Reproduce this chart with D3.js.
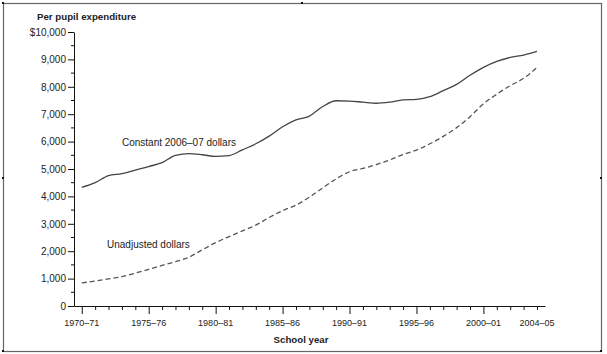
<!DOCTYPE html>
<html>
<head>
<meta charset="utf-8">
<script src="https://cdn.jsdelivr.net/npm/d3@7"></script>
<style>
  body { margin: 0; background: #fff; }
  svg text { font-family: "Liberation Sans", Arial, sans-serif; fill: #222; }
</style>
</head>
<body>
<div id="chart"></div>
<script>
let width = 607,
    height = 354;

// school years, by starting year (1970 = 1970–71)
const years = d3.range(1970, 2005);

// per pupil expenditure, constant 2006–07 dollars
const constantDollars = [4330, 4500, 4760, 4830, 4960, 5090, 5230, 5500, 5560, 5520,
    5460, 5490, 5700, 5920, 6200, 6540, 6790, 6930, 7280, 7490,
    7480, 7440, 7400, 7440, 7520, 7540, 7640, 7860, 8090, 8420,
    8710, 8930, 9070, 9160, 9290];

// per pupil expenditure, unadjusted dollars
const unadjustedDollars = [842, 910, 990, 1070, 1200, 1340, 1480, 1620, 1780, 2050,
    2310, 2530, 2740, 2950, 3230, 3480, 3680, 3970, 4310, 4640,
    4900, 5020, 5160, 5330, 5530, 5690, 5920, 6190, 6510, 6910,
    7380, 7730, 8040, 8310, 8700];

const xLabelYears = [1970, 1975, 1980, 1985, 1990, 1995, 2000, 2004];
const majorYears = [1970, 1975, 1980, 1985, 1990, 1995, 2000];
const yTicks = d3.range(0, 10001, 1000);
const yMinor = d3.range(500, 10000, 1000);

let svg = d3.select("#chart")
    .append("svg")
    .attr("width", width)
    .attr("height", height);

// frame
svg.append("rect")
    .attr("x", 3.5).attr("y", 3.5)
    .attr("width", 598).attr("height", 348)
    .attr("fill", "none")
    .attr("stroke", "#666")
    .attr("stroke-width", 1.2);

// little corner / side marks
[[3, 3], [302, 3], [3, 178], [601, 178], [3, 351], [601, 351]].forEach(p => {
    svg.append("rect").attr("x", p[0] - 1).attr("y", p[1] - 1)
        .attr("width", 2).attr("height", 2).attr("fill", "#111");
});

let x = d3.scaleLinear()
    .domain([1969.42, 2004.6])
    .range([74, 545]);

let y = d3.scaleLinear()
    .domain([0, 10000])
    .range([306, 32]);

// y axis
let yAxis = svg.append("g")
    .attr("transform", "translate(74,0)")
    .call(d3.axisLeft(y)
        .tickValues(yTicks)
        .tickSize(6)
        .tickSizeOuter(0)
        .tickFormat(d => d === 10000 ? "$10,000" : d3.format(",")(d)));
yAxis.selectAll("text").attr("font-size", 10).attr("dx", "0.1em");

svg.append("g")
    .attr("transform", "translate(74,0)")
    .selectAll("line")
    .data(yMinor)
    .join("line")
    .attr("x1", -3).attr("x2", 0)
    .attr("y1", d => y(d)).attr("y2", d => y(d))
    .attr("stroke", "#111");

// x axis
let xAxis = svg.append("g")
    .attr("transform", "translate(0,306)")
    .call(d3.axisBottom(x)
        .tickValues(years)
        .tickSize(4)
        .tickSizeOuter(0)
        .tickFormat(""));
xAxis.selectAll(".tick line")
    .attr("y2", d => majorYears.includes(d) ? 8 : 4);

svg.append("g")
    .selectAll("text")
    .data(xLabelYears)
    .join("text")
    .attr("x", d => x(d))
    .attr("y", 326)
    .attr("text-anchor", "middle")
    .attr("font-size", 9)
    .text(d => d + "–" + String(d + 1).slice(2));

svg.selectAll(".domain, .tick line").attr("stroke", "#111");

// lines
let line = d3.line()
    .x((d, i) => x(years[i]))
    .y(d => y(d))
    .curve(d3.curveMonotoneX);

svg.append("path")
    .datum(constantDollars)
    .attr("d", line)
    .attr("fill", "none")
    .attr("stroke", "#444")
    .attr("stroke-width", 1.3);

svg.append("path")
    .datum(unadjustedDollars)
    .attr("d", line)
    .attr("fill", "none")
    .attr("stroke", "#555")
    .attr("stroke-width", 1.3)
    .attr("stroke-dasharray", "5,3");

// labels
svg.append("text")
    .attr("x", 37).attr("y", 20)
    .attr("font-size", 9.7).attr("font-weight", "bold")
    .text("Per pupil expenditure");

svg.append("text")
    .attr("x", 301).attr("y", 343)
    .attr("text-anchor", "middle")
    .attr("font-size", 9.7).attr("font-weight", "bold")
    .text("School year");

svg.append("text")
    .attr("x", 122).attr("y", 146)
    .attr("font-size", 10)
    .text("Constant 2006–07 dollars");

svg.append("text")
    .attr("x", 107).attr("y", 248)
    .attr("font-size", 10)
    .text("Unadjusted dollars");
</script>
</body>
</html>
